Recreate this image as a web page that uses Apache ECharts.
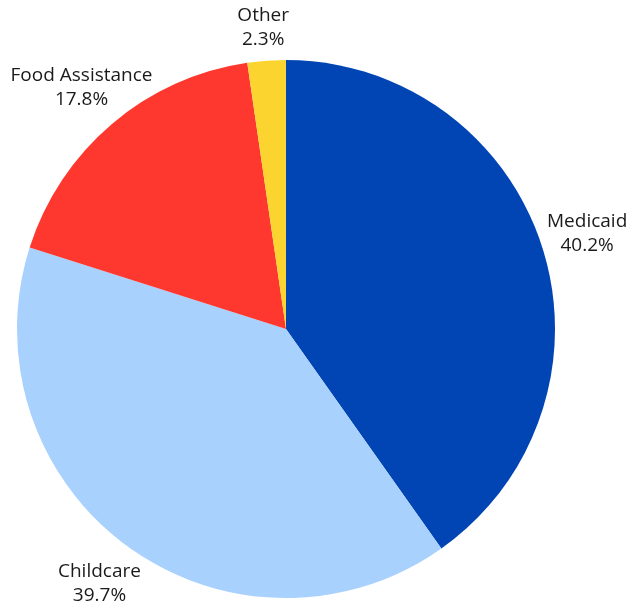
<!DOCTYPE html>
<html>
<head>
<meta charset="utf-8">
<script src="https://cdn.jsdelivr.net/npm/echarts@6/dist/echarts.min.js"></script>
<style>
html,body{margin:0;padding:0;background:#fff;}
#chart{width:626px;height:610px;}
</style>
</head>
<body>
<div id="chart"></div>
<script>
const categories = ['Medicaid', 'Childcare', 'Food Assistance', 'Other'];
const values = [40.2, 39.7, 17.8, 2.3];
const colors = ['#0145B4', '#A9D1FD', '#FE382E', '#FBD42F'];

const chart = echarts.init(document.getElementById('chart'), null, {renderer: 'canvas'});
const data = categories.map((n, i) => ({name: n, value: values[i]}));
// small slices sit a little closer to the pie
const labelData = categories.map((n, i) => ({
  name: n,
  value: values[i],
  label: values[i] < 5 ? {offset: [0, 14]} : {}
}));

chart.setOption({
  animation: false,
  color: colors,
  series: [
    {
      type: 'pie',
      center: [286, 329],
      radius: [0, 269],
      startAngle: 90,
      clockwise: true,
      silent: true,
      label: {show: false},
      labelLine: {show: false},
      itemStyle: {borderWidth: 0},
      data: data
    },
    {
      type: 'pie',
      center: [286, 329],
      radius: [292, 334],
      startAngle: 90,
      clockwise: true,
      silent: true,
      itemStyle: {color: 'rgba(0,0,0,0)', borderWidth: 0},
      label: {
        show: true,
        position: 'inside',
        formatter: p => p.name + '\n' + p.value.toFixed(1) + '%',
        color: '#1a1a1a',
        fontFamily: 'Open Sans',
        fontSize: 19,
        lineHeight: 24,
        align: 'center'
      },
      labelLine: {show: false},
      data: labelData
    }
  ]
});
</script>
</body>
</html>
